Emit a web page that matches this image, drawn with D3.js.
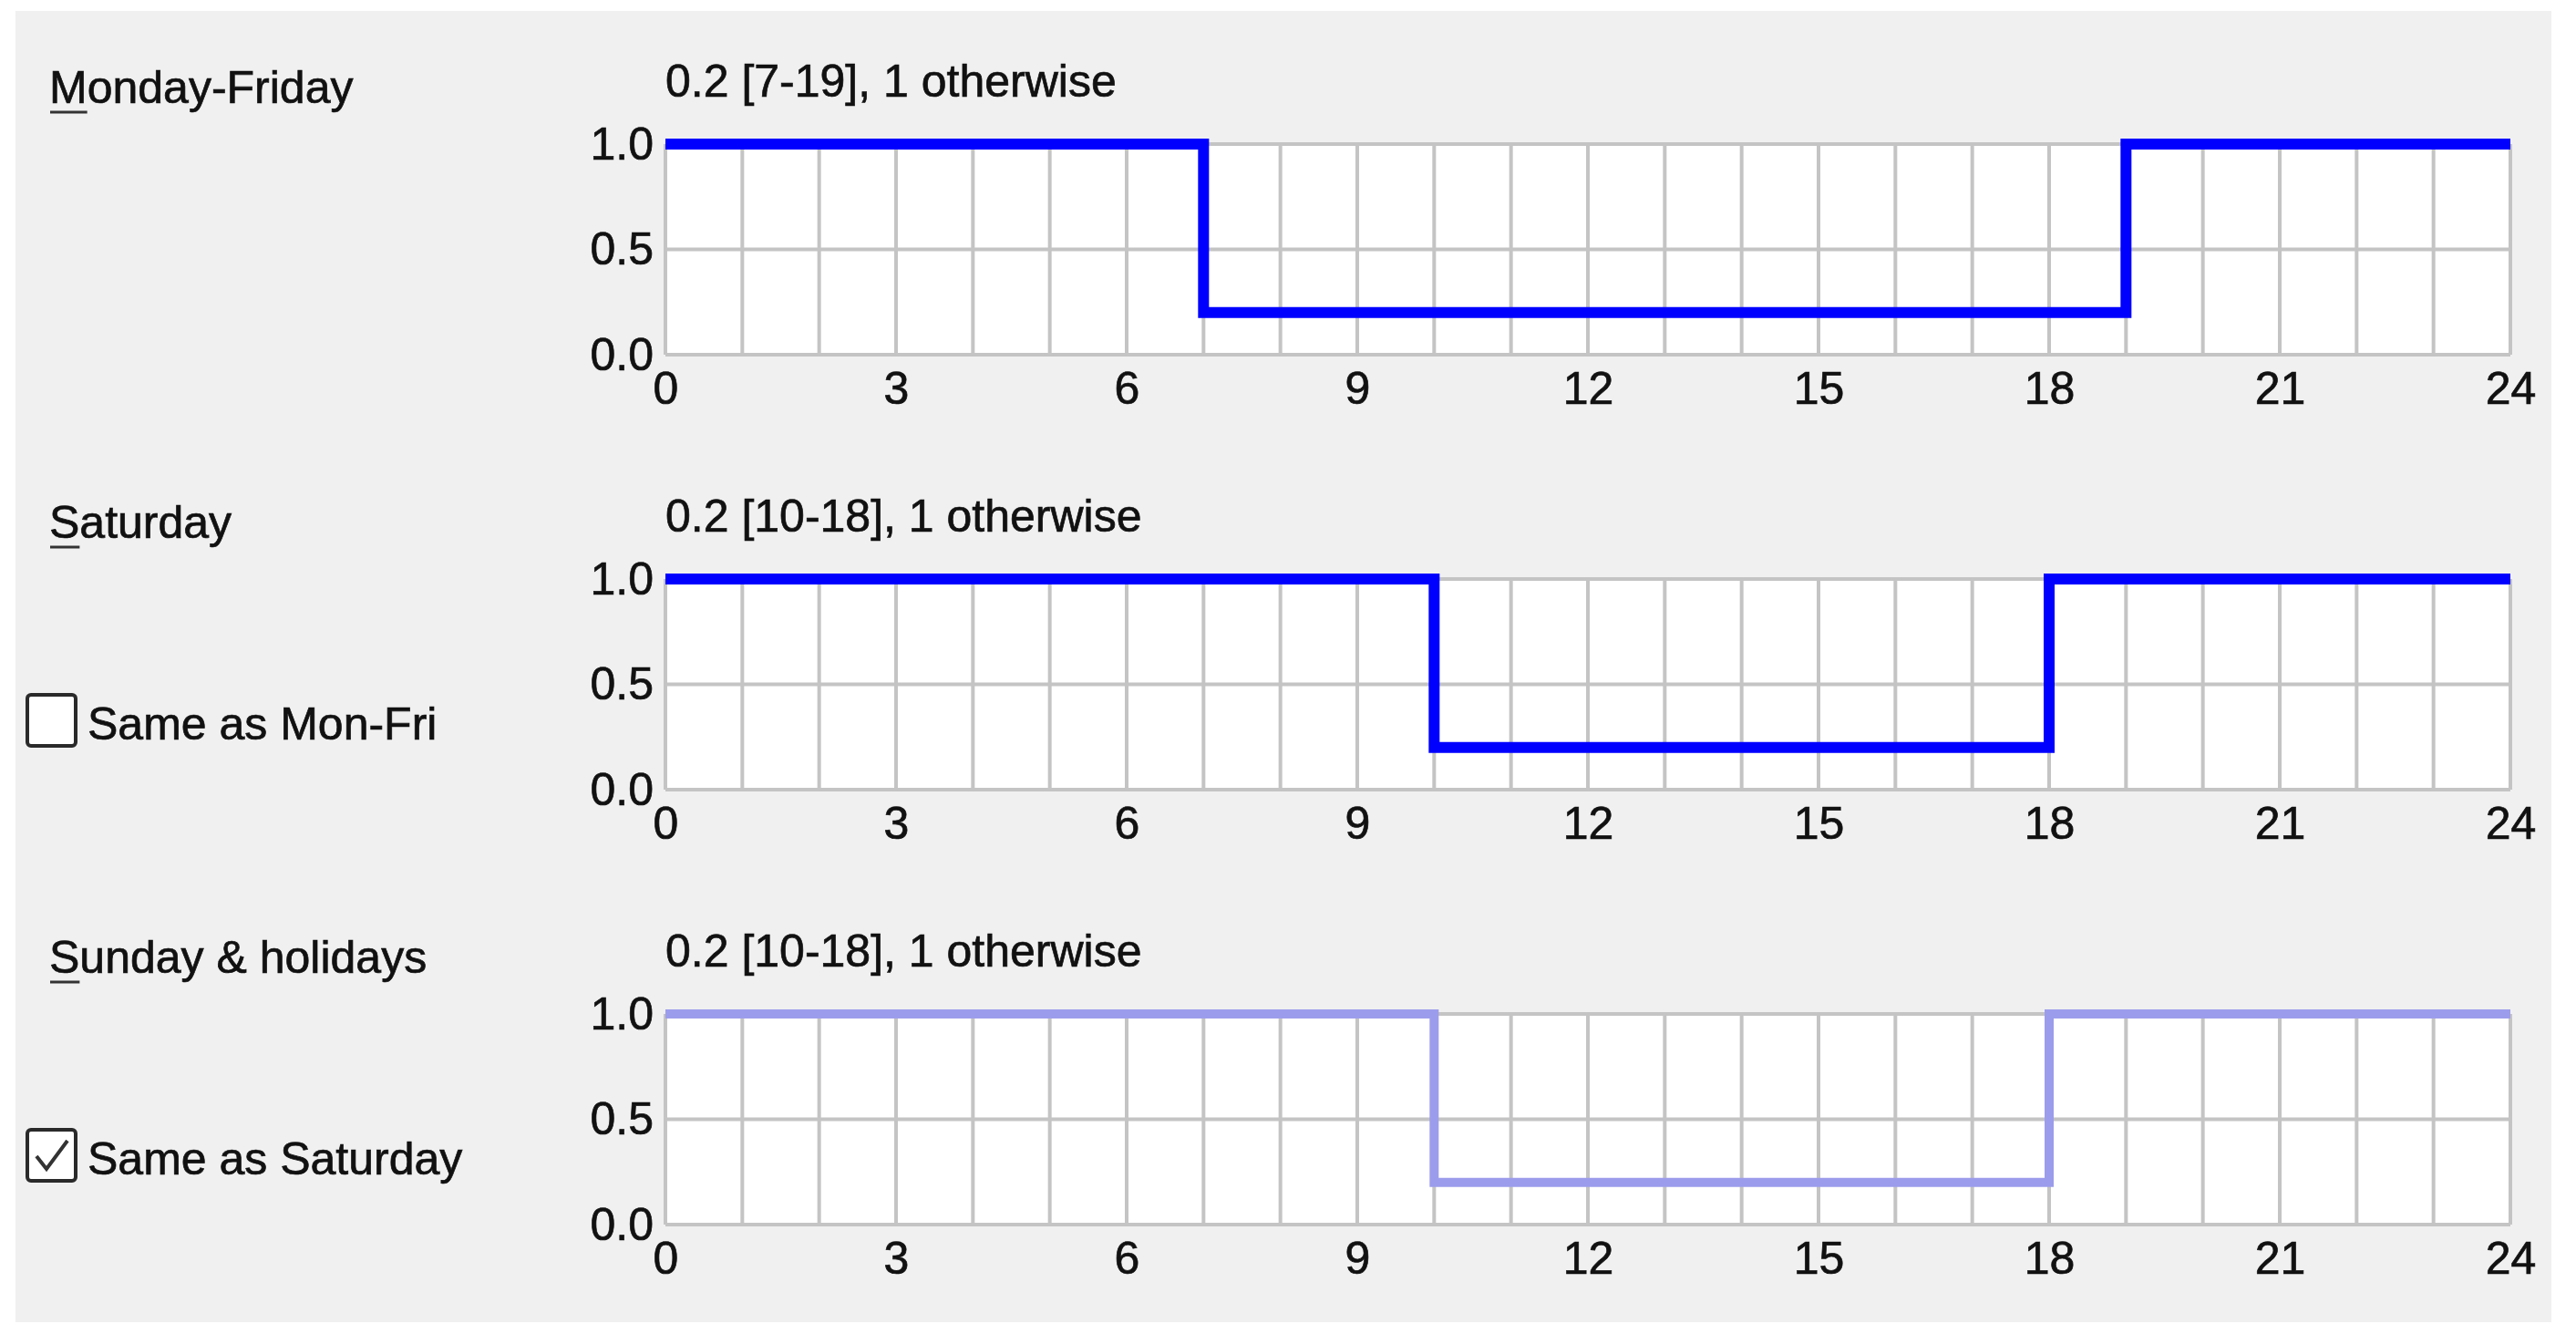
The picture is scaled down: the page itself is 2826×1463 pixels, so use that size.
<!DOCTYPE html>
<html>
<head>
<meta charset="utf-8">
<script src="https://cdn.jsdelivr.net/npm/d3@7"></script>
<style>
  html, body { margin: 0; padding: 0; background: #ffffff; }
  text { font-family: "Liberation Sans", Arial, sans-serif; fill: #111; stroke: #111; stroke-width: 0.7px; }
</style>
</head>
<body>
<div id="chart"></div>
<script>
// hourly values, hour 0..23 (step function, value holds for the hour)
const hours = d3.range(0, 25)
const monFriValues = [1, 1, 1, 1, 1, 1, 1, 0.2, 0.2, 0.2, 0.2, 0.2, 0.2, 0.2, 0.2, 0.2, 0.2, 0.2, 0.2, 1, 1, 1, 1, 1]
const saturdayValues = [1, 1, 1, 1, 1, 1, 1, 1, 1, 1, 0.2, 0.2, 0.2, 0.2, 0.2, 0.2, 0.2, 0.2, 1, 1, 1, 1, 1, 1]
const sundayValues = [1, 1, 1, 1, 1, 1, 1, 1, 1, 1, 0.2, 0.2, 0.2, 0.2, 0.2, 0.2, 0.2, 0.2, 1, 1, 1, 1, 1, 1]

const labels = ['Monday-Friday', 'Saturday', 'Sunday & holidays']
const summaries = ['0.2 [7-19], 1 otherwise', '0.2 [10-18], 1 otherwise', '0.2 [10-18], 1 otherwise']
const checkboxLabels = [null, 'Same as Mon-Fri', 'Same as Saturday']
const checked = [false, false, true]
const lineColors = ['#0000ff', '#0000ff', '#9c9cec']
const xTicks = [0, 3, 6, 9, 12, 15, 18, 21, 24]
const yTicks = [0, 0.5, 1]

const width = 2826
const height = 1463
const plotLeft = 730
const plotRight = 2754
const plotH = 231
const plotTops = [158, 635, 1112]

const svg = d3.select('#chart').append('svg')
    .attr('width', width)
    .attr('height', height)

svg.append('rect')
    .attr('width', width)
    .attr('height', height)
    .attr('fill', 'white')
svg.append('rect')
    .attr('x', 17)
    .attr('y', 12)
    .attr('width', 2782)
    .attr('height', 1438)
    .attr('fill', '#f0f0f0')

const xScale = d3.scaleLinear().domain([0, 24]).range([plotLeft, plotRight])

const series = [monFriValues, saturdayValues, sundayValues]

series.forEach(function(values, i) {
    const top = plotTops[i]
    const yScale = d3.scaleLinear().domain([0, 1]).range([top + plotH, top])
    const g = svg.append('g')

    // label with underlined access key
    const lbl = g.append('text')
        .attr('x', 54)
        .attr('y', top - 45)
        .attr('font-size', 50)
        .text(labels[i])
    const firstW = lbl.node().getSubStringLength(0, 1)
    g.append('line')
        .attr('x1', 55).attr('x2', 54 + firstW)
        .attr('y1', top - 35).attr('y2', top - 35)
        .attr('stroke', '#333').attr('stroke-width', 3)

    g.append('text')
        .attr('x', plotLeft)
        .attr('y', top - 52)
        .attr('font-size', 50)
        .text(summaries[i])

    // plot area
    g.append('rect')
        .attr('x', plotLeft)
        .attr('y', top)
        .attr('width', plotRight - plotLeft)
        .attr('height', plotH)
        .attr('fill', 'white')

    g.append('g')
        .selectAll('line')
        .data(d3.range(0, 25))
        .join('line')
        .attr('x1', d => xScale(d)).attr('x2', d => xScale(d))
        .attr('y1', top).attr('y2', top + plotH)
        .attr('stroke', '#c4c4c4').attr('stroke-width', 4)
    g.append('g')
        .selectAll('line')
        .data(yTicks)
        .join('line')
        .attr('x1', plotLeft).attr('x2', plotRight)
        .attr('y1', d => yScale(d)).attr('y2', d => yScale(d))
        .attr('stroke', '#c4c4c4').attr('stroke-width', 4)

    const xAxis = g.append('g')
        .attr('transform', 'translate(0,' + (top + plotH) + ')')
        .call(d3.axisBottom(xScale).tickValues(xTicks).tickSize(0).tickPadding(18))
    xAxis.select('.domain').remove()
    xAxis.selectAll('text').attr('font-size', 50).attr('font-family', null).attr('fill', null)

    const yAxis = g.append('g')
        .attr('transform', 'translate(' + plotLeft + ',0)')
        .call(d3.axisLeft(yScale).tickValues(yTicks).tickSize(0).tickPadding(13).tickFormat(d3.format('.1f')))
    yAxis.select('.domain').remove()
    yAxis.selectAll('text').attr('font-size', 50).attr('font-family', null).attr('fill', null)

    const pts = hours.map(function(h) {
        return { x: h, y: values[Math.min(h, values.length - 1)] }
    })
    const valueline = d3.line()
        .x(d => xScale(d.x))
        .y(d => yScale(d.y))
        .curve(d3.curveStepAfter)
    g.append('path')
        .datum(pts)
        .attr('d', valueline)
        .attr('fill', 'none')
        .attr('stroke', lineColors[i])
        .attr('stroke-width', i === 2 ? 10 : 12)

    // checkbox
    if (checkboxLabels[i]) {
        const cy = top + 155
        g.append('rect')
            .attr('x', 30).attr('y', cy - 28)
            .attr('width', 53).attr('height', 56)
            .attr('rx', 4)
            .attr('fill', 'white')
            .attr('stroke', '#2a2a2a').attr('stroke-width', 4)
        if (checked[i]) {
            g.append('path')
                .attr('d', 'M' + 40 + ',' + (cy + 1) + 'L' + 51 + ',' + (cy + 15) + 'L' + 74 + ',' + (cy - 16))
                .attr('fill', 'none')
                .attr('stroke', '#333').attr('stroke-width', 4)
        }
        g.append('text')
            .attr('x', 96)
            .attr('y', top + 176)
            .attr('font-size', 50)
            .text(checkboxLabels[i])
    }
})
</script>
</body>
</html>
